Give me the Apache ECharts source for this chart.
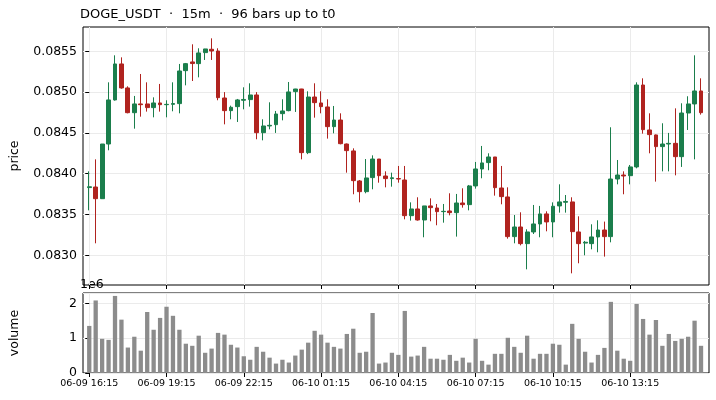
<!DOCTYPE html>
<html>
<head>
<meta charset="utf-8">
<script src="https://cdn.jsdelivr.net/npm/echarts@6/dist/echarts.min.js"></script>
<style>
  html, body { margin: 0; padding: 0; background: #fff; }
  #chart-container { width: 716px; height: 400px; }
</style>
</head>
<body>
<div id="chart-container"></div>
<script>
// 96 根 15 分钟 K 线
const opens = [
  0.08383, 0.083837, 0.083694, 0.084364, 0.084904, 0.085345, 0.085051, 0.084748, 0.084855, 0.084855,
  0.08481, 0.084867, 0.084846, 0.08485, 0.084859, 0.085263, 0.08537, 0.085349, 0.085484, 0.085525,
  0.085504, 0.084928, 0.084773, 0.084822, 0.0849, 0.084908, 0.084965, 0.084503, 0.084585, 0.084601,
  0.084736, 0.084773, 0.085006, 0.085038, 0.084258, 0.08494, 0.084867, 0.084818, 0.084577, 0.084658,
  0.084364, 0.084279, 0.083911, 0.08378, 0.083952, 0.08418, 0.083972, 0.08394, 0.08394, 0.083923,
  0.083486, 0.083568, 0.083433, 0.083605, 0.08358, 0.083535, 0.083543, 0.083523, 0.083641, 0.083621,
  0.08385, 0.084058, 0.084136, 0.084205, 0.083825, 0.083715, 0.083229, 0.083347, 0.083143, 0.083286,
  0.083384, 0.083507, 0.083409, 0.083605, 0.08365, 0.083654, 0.083286, 0.08315, 0.083143, 0.083225,
  0.08331, 0.083229, 0.083935, 0.083984, 0.083976, 0.084083, 0.085087, 0.084536, 0.084475, 0.084332,
  0.084364, 0.084372, 0.084209, 0.084744, 0.084855, 0.085014
];
const closes = [
  0.08384, 0.083694, 0.084364, 0.084904, 0.085345, 0.085051, 0.084748, 0.084855, 0.084846, 0.08481,
  0.084867, 0.084846, 0.08485, 0.08486, 0.085259, 0.085349, 0.08535, 0.08548, 0.085529, 0.085504,
  0.084932, 0.084773, 0.084814, 0.084904, 0.08491, 0.084965, 0.084503, 0.084585, 0.084593, 0.084732,
  0.084769, 0.085002, 0.085038, 0.084258, 0.08494, 0.084871, 0.084822, 0.084577, 0.084658, 0.084368,
  0.084283, 0.083915, 0.08378, 0.083948, 0.08418, 0.083976, 0.08394, 0.08395, 0.083935, 0.083486,
  0.083568, 0.083433, 0.083605, 0.083584, 0.083535, 0.083539, 0.083523, 0.083641, 0.083621, 0.08385,
  0.084058, 0.084132, 0.084205, 0.083829, 0.083719, 0.083229, 0.083347, 0.083143, 0.083286, 0.083384,
  0.083507, 0.083409, 0.083601, 0.083654, 0.08366, 0.08329, 0.083143, 0.08316, 0.083225, 0.08331,
  0.083229, 0.083935, 0.083984, 0.083972, 0.084083, 0.085087, 0.08454, 0.084479, 0.084332, 0.084364,
  0.084372, 0.084209, 0.084744, 0.084855, 0.085014, 0.084748
];
const lows = [
  0.083551, 0.083147, 0.08369, 0.084287, 0.084896, 0.085042, 0.08474, 0.084552, 0.084699, 0.084761,
  0.084691, 0.084761, 0.084691, 0.084765, 0.08474, 0.085083, 0.085136, 0.085181, 0.085394, 0.085394,
  0.0849, 0.084605, 0.084667, 0.084634, 0.084789, 0.084822, 0.084422, 0.084409, 0.084544, 0.0845,
  0.084654, 0.084765, 0.084757, 0.084176, 0.08424, 0.084687, 0.08474, 0.08443, 0.084495, 0.08436,
  0.084013, 0.083748, 0.083649, 0.08376, 0.083809, 0.08389, 0.083833, 0.083841, 0.08389, 0.083441,
  0.083425, 0.083425, 0.083221, 0.083417, 0.083368, 0.0834, 0.08349, 0.083229, 0.083584, 0.083551,
  0.083817, 0.083944, 0.084042, 0.083731, 0.083625, 0.083204, 0.083147, 0.083122, 0.082828, 0.083261,
  0.083221, 0.083294, 0.083221, 0.083523, 0.083523, 0.082779, 0.082902, 0.083, 0.083073, 0.083037,
  0.082984, 0.083159, 0.08387, 0.083748, 0.08387, 0.084066, 0.084491, 0.08425, 0.083903, 0.084029,
  0.084029, 0.08398, 0.084083, 0.084536, 0.084176, 0.084724
];
const highs = [
  0.084029, 0.084176, 0.084364, 0.08512, 0.085451, 0.085426, 0.085071, 0.084953, 0.085222, 0.08512,
  0.084936, 0.0851, 0.0849, 0.08512, 0.085345, 0.085357, 0.085586, 0.085537, 0.08553, 0.085659,
  0.085537, 0.085, 0.084834, 0.084916, 0.085059, 0.085108, 0.085, 0.084667, 0.084875, 0.084769,
  0.084912, 0.085124, 0.08504, 0.08504, 0.08501, 0.085108, 0.08501, 0.084912, 0.08483, 0.08474,
  0.08437, 0.084311, 0.083923, 0.08418, 0.084225, 0.08418, 0.084029, 0.084013, 0.084095, 0.084095,
  0.083649, 0.083711, 0.083605, 0.083698, 0.083629, 0.083629, 0.08376, 0.083752, 0.083821, 0.083862,
  0.084144, 0.08434, 0.08425, 0.084205, 0.084095, 0.083833, 0.083494, 0.083527, 0.083319, 0.083617,
  0.083605, 0.083539, 0.083649, 0.08387, 0.083739, 0.083711, 0.083478, 0.083176, 0.08338, 0.083429,
  0.083413, 0.084569, 0.084168, 0.084029, 0.084107, 0.08512, 0.085169, 0.08474, 0.08448, 0.084618,
  0.0845, 0.084801, 0.084863, 0.084949, 0.085451, 0.085169
];
// 成交量, 单位 1e6
const volumes = [
  1.35, 2.08, 0.98, 0.95, 2.21, 1.53, 0.73, 1.04, 0.64, 1.75,
  1.24, 1.58, 1.90, 1.64, 1.24, 0.84, 0.78, 1.07, 0.58, 0.70,
  1.15, 1.10, 0.81, 0.73, 0.48, 0.38, 0.75, 0.61, 0.44, 0.27,
  0.38, 0.30, 0.50, 0.67, 0.87, 1.21, 1.10, 0.87, 0.75, 0.70,
  1.12, 1.27, 0.58, 0.61, 1.72, 0.27, 0.30, 0.58, 0.52, 1.78,
  0.47, 0.50, 0.75, 0.41, 0.41, 0.38, 0.52, 0.35, 0.44, 0.30,
  0.98, 0.35, 0.24, 0.55, 0.55, 1.01, 0.75, 0.58, 1.07, 0.41,
  0.55, 0.55, 0.84, 0.81, 0.24, 1.41, 0.98, 0.61, 0.30, 0.52,
  0.72, 2.04, 0.64, 0.41, 0.35, 1.98, 1.55, 1.10, 1.52, 0.78,
  1.12, 0.92, 0.98, 1.04, 1.50, 0.78
];
const xTickIdx = [0, 12, 24, 36, 48, 60, 72, 84];
const xTickLabels = ['06-09 16:15', '06-09 19:15', '06-09 22:15', '06-10 01:15',
                     '06-10 04:15', '06-10 07:15', '06-10 10:15', '06-10 13:15'];
const priceTicks = [0.083, 0.0835, 0.084, 0.0845, 0.085, 0.0855];

const UP = '#1b7e4c';
const DOWN = '#b0231f';
const FONT = 'DejaVu Sans';
const gridLine = { show: true, lineStyle: { color: '#ebebeb', width: 1 } };

const candleData = opens.map((o, i) => [i, o, closes[i], lows[i], highs[i]]);
const volData = volumes.map((v, i) => [i, v]);

const xBase = {
  type: 'value', min: -0.97, max: 96.24,
  axisLine: { show: false },
  axisTick: { show: true, customValues: xTickIdx, length: 4, lineStyle: { color: '#000' } },
  splitLine: gridLine
};

const chartOption = {
  animation: false,
  textStyle: { fontFamily: FONT },
  title: {
    text: 'DOGE_USDT  ·  15m  ·  96 bars up to t0',
    left: 80, top: 8, padding: 0,
    textStyle: { fontFamily: FONT, fontSize: 13, fontWeight: 'normal', color: '#000' }
  },
  grid: [
    { left: 80, right: 7, top: 27, height: 258, show: true, borderColor: '#000', borderWidth: 1, backgroundColor: '#fff' },
    { left: 80, right: 7, top: 293, height: 80, show: true, borderColor: '#000', borderWidth: 1, backgroundColor: '#fff' }
  ],
  xAxis: [
    Object.assign({}, xBase, { gridIndex: 0, axisLabel: { show: false } }),
    Object.assign({}, xBase, {
      gridIndex: 1,
      axisLabel: {
        customValues: xTickIdx, margin: 6, fontSize: 9.5, color: '#000', fontFamily: FONT,
        formatter: v => xTickLabels[xTickIdx.indexOf(Math.round(v))] || ''
      }
    })
  ],
  yAxis: [
    {
      type: 'value', gridIndex: 0, min: 0.082636, max: 0.085798, scale: true,
      name: 'price', nameLocation: 'middle', nameGap: 62,
      nameTextStyle: { fontFamily: FONT, fontSize: 12.5, color: '#000' },
      axisLine: { show: false },
      axisTick: { show: true, customValues: priceTicks, length: 4, lineStyle: { color: '#000' } },
      axisLabel: { customValues: priceTicks, margin: 6, fontSize: 12.5, color: '#000', fontFamily: FONT,
                   formatter: v => v.toFixed(4) },
      splitLine: gridLine
    },
    {
      type: 'value', gridIndex: 1, min: 0, max: 2.294, interval: 1,
      name: 'volume', nameLocation: 'middle', nameGap: 62,
      nameTextStyle: { fontFamily: FONT, fontSize: 12.5, color: '#000' },
      axisLine: { show: false },
      axisTick: { show: true, length: 4, lineStyle: { color: '#000' } },
      axisLabel: { margin: 6, fontSize: 12.5, color: '#000', fontFamily: FONT,
                   formatter: v => String(Math.round(v)) },
      splitLine: gridLine
    }
  ],
  graphic: [
    { type: 'text', left: 80, top: 278, style: { text: '1e6', fontFamily: FONT, fontSize: 12.5, fill: '#000' } }
  ],
  series: [
    {
      name: 'price', type: 'candlestick', xAxisIndex: 0, yAxisIndex: 0,
      data: candleData, encode: { x: 0, y: [1, 2, 3, 4] },
      barWidth: 4.3,
      itemStyle: { color: UP, color0: DOWN, borderColor: UP, borderColor0: DOWN, borderWidth: 1 }
    },
    {
      name: 'volume', type: 'bar', xAxisIndex: 1, yAxisIndex: 1,
      data: volData, barWidth: 4.3,
      itemStyle: { color: '#8c8c8c' }
    }
  ]
};

const chartContainer = document.getElementById('chart-container');
const chart = echarts.init(chartContainer);
chart.setOption(chartOption);
</script>
</body>
</html>
